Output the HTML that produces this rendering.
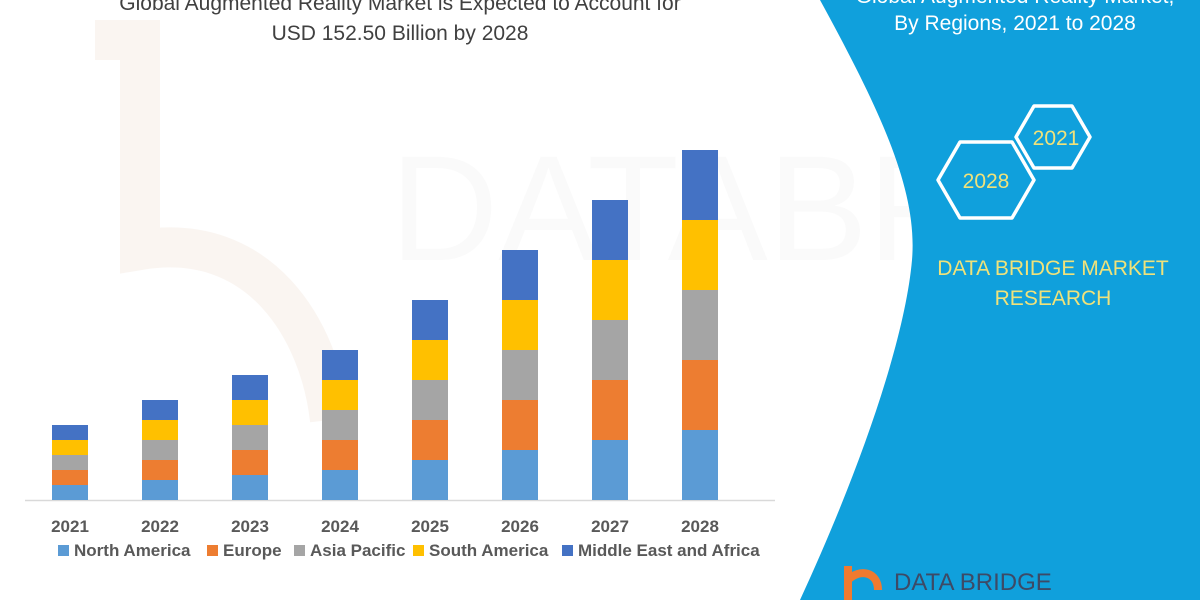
<!DOCTYPE html>
<html><head><meta charset="utf-8"><style>
body{margin:0;width:1200px;height:600px;overflow:hidden;background:#fff;font-family:"Liberation Sans",sans-serif}
</style></head><body>
<svg width="1200" height="600" xmlns="http://www.w3.org/2000/svg" style="position:absolute;left:0;top:0">
<rect width="1200" height="600" fill="#fff"/>
<g opacity="0.035" fill="#808080" font-family="Liberation Sans" font-size="150">
<text x="390" y="260">DATABRIDGE</text>
</g>
<path d="M95,40 L140,40 L140,250 C260,230 320,330 330,420" fill="none" stroke="#f6ebe4" stroke-width="40" opacity="0.5"/>
<g font-family="Liberation Sans" font-size="21" fill="#404040" text-anchor="middle">
<text x="400" y="10">Global Augmented Reality Market is Expected to Account for</text>
<text x="400" y="40">USD 152.50 Billion by 2028</text>
</g>
<line x1="25" y1="500.5" x2="775" y2="500.5" stroke="#d9d9d9" stroke-width="1.5"/>
<g>
<rect x="52" y="485" width="36" height="15" fill="#5b9bd5"/><rect x="52" y="470" width="36" height="15" fill="#ed7d31"/><rect x="52" y="455" width="36" height="15" fill="#a5a5a5"/><rect x="52" y="440" width="36" height="15" fill="#ffc000"/><rect x="52" y="425" width="36" height="15" fill="#4472c4"/>
<rect x="142" y="480" width="36" height="20" fill="#5b9bd5"/><rect x="142" y="460" width="36" height="20" fill="#ed7d31"/><rect x="142" y="440" width="36" height="20" fill="#a5a5a5"/><rect x="142" y="420" width="36" height="20" fill="#ffc000"/><rect x="142" y="400" width="36" height="20" fill="#4472c4"/>
<rect x="232" y="475" width="36" height="25" fill="#5b9bd5"/><rect x="232" y="450" width="36" height="25" fill="#ed7d31"/><rect x="232" y="425" width="36" height="25" fill="#a5a5a5"/><rect x="232" y="400" width="36" height="25" fill="#ffc000"/><rect x="232" y="375" width="36" height="25" fill="#4472c4"/>
<rect x="322" y="470" width="36" height="30" fill="#5b9bd5"/><rect x="322" y="440" width="36" height="30" fill="#ed7d31"/><rect x="322" y="410" width="36" height="30" fill="#a5a5a5"/><rect x="322" y="380" width="36" height="30" fill="#ffc000"/><rect x="322" y="350" width="36" height="30" fill="#4472c4"/>
<rect x="412" y="460" width="36" height="40" fill="#5b9bd5"/><rect x="412" y="420" width="36" height="40" fill="#ed7d31"/><rect x="412" y="380" width="36" height="40" fill="#a5a5a5"/><rect x="412" y="340" width="36" height="40" fill="#ffc000"/><rect x="412" y="300" width="36" height="40" fill="#4472c4"/>
<rect x="502" y="450" width="36" height="50" fill="#5b9bd5"/><rect x="502" y="400" width="36" height="50" fill="#ed7d31"/><rect x="502" y="350" width="36" height="50" fill="#a5a5a5"/><rect x="502" y="300" width="36" height="50" fill="#ffc000"/><rect x="502" y="250" width="36" height="50" fill="#4472c4"/>
<rect x="592" y="440" width="36" height="60" fill="#5b9bd5"/><rect x="592" y="380" width="36" height="60" fill="#ed7d31"/><rect x="592" y="320" width="36" height="60" fill="#a5a5a5"/><rect x="592" y="260" width="36" height="60" fill="#ffc000"/><rect x="592" y="200" width="36" height="60" fill="#4472c4"/>
<rect x="682" y="430" width="36" height="70" fill="#5b9bd5"/><rect x="682" y="360" width="36" height="70" fill="#ed7d31"/><rect x="682" y="290" width="36" height="70" fill="#a5a5a5"/><rect x="682" y="220" width="36" height="70" fill="#ffc000"/><rect x="682" y="150" width="36" height="70" fill="#4472c4"/>
</g>
<path d="M820,0 C880,110 918,190 912,260 C905,340 860,470 800,600 L1200,600 L1200,0 Z" fill="#10a0dc"/>
<g font-family="Liberation Sans" font-size="21" fill="#fff" text-anchor="middle">
<text x="1015" y="3">Global Augmented Reality Market,</text>
<text x="1015" y="30">By Regions, 2021 to 2028</text>
</g>
<polygon points="1016,137 1034,106 1072,106 1090,137 1072,168 1034,168" fill="none" stroke="#fff" stroke-width="3.5" stroke-linejoin="round"/>
<polygon points="938,180 960,142 1012,142 1034,180 1012,218 960,218" fill="none" stroke="#fff" stroke-width="3.5" stroke-linejoin="round"/>
<g font-family="Liberation Sans" font-size="21" fill="#f0e27a" text-anchor="middle">
<text x="1056" y="145">2021</text>
<text x="986" y="188">2028</text>
<text x="1053" y="275">DATA BRIDGE MARKET</text>
<text x="1053" y="305">RESEARCH</text>
</g>
<path d="M848,566 L848,600 M848,580 C860,568 878,572 878,590" fill="none" stroke="#f07a30" stroke-width="8"/>
<text x="894" y="590" font-family="Liberation Sans" font-size="24" fill="#3d4a66">DATA BRIDGE</text>
<g font-family="Liberation Sans" font-size="17" font-weight="bold" fill="#595959" text-anchor="middle">
<text x="70" y="532">2021</text><text x="160" y="532">2022</text><text x="250" y="532">2023</text><text x="340" y="532">2024</text>
<text x="430" y="532">2025</text><text x="520" y="532">2026</text><text x="610" y="532">2027</text><text x="700" y="532">2028</text>
</g>
<g font-family="Liberation Sans" font-size="17" font-weight="bold" fill="#595959">
<rect x="58" y="545" width="11" height="11" fill="#5b9bd5"/><text x="74" y="556">North America</text>
<rect x="207" y="545" width="11" height="11" fill="#ed7d31"/><text x="223" y="556">Europe</text>
<rect x="294" y="545" width="11" height="11" fill="#a5a5a5"/><text x="310" y="556">Asia Pacific</text>
<rect x="413" y="545" width="11" height="11" fill="#ffc000"/><text x="429" y="556">South America</text>
<rect x="562" y="545" width="11" height="11" fill="#4472c4"/><text x="578" y="556">Middle East and Africa</text>
</g>
</svg>
</body></html>
